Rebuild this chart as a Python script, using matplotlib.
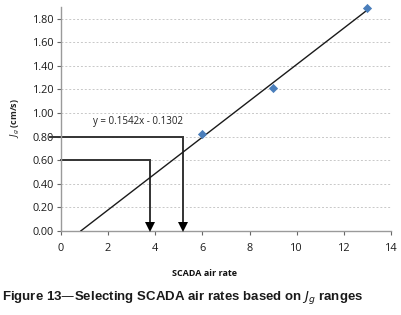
import matplotlib
matplotlib.use("Agg")
import matplotlib.pyplot as plt
from matplotlib.transforms import ScaledTranslation
import numpy as np

# Data
air_rate = [6, 9, 13]
jg = [0.82, 1.21, 1.89]
slope, intercept = 0.1542, -0.1302
eq_label = "y = 0.1542x - 0.1302"
jg_targets = [0.60, 0.80]
air_selected = [3.77, 5.17]
x_ticks = [0, 2, 4, 6, 8, 10, 12, 14]
y_ticks = [0.0, 0.2, 0.4, 0.6, 0.8, 1.0, 1.2, 1.4, 1.6, 1.8]

plt.rcParams['font.family'] = ['Open Sans', 'DejaVu Sans']

fig = plt.figure(figsize=(4.01, 3.15), dpi=100)
ax = fig.add_axes([0.152, 0.267, 0.823, 0.711])
ax.set_xlim(0, 14)
ax.set_ylim(0, 1.9)

# grid
for yv in y_ticks[1:]:
    ax.axhline(yv, color='#c8c8c8', lw=0.7, ls=(0, (2, 2)), zorder=0)

# trendline
x0 = -intercept / slope
xs = np.array([x0, 13.0])
ax.plot(xs, slope * xs + intercept, color='#1a1a1a', lw=1.0, zorder=3)

# data points
ax.scatter(air_rate, jg, marker='D', s=22, color='#4a7ebb', zorder=4, linewidths=0,
           clip_on=False)

# selection lines with arrows
starts = [0.0, -0.45]
up = ScaledTranslation(0, 3.0 / 72, fig.dpi_scale_trans)
for yt, xsel, xs0 in zip(jg_targets, air_selected, starts):
    ax.plot([xs0, xsel, xsel], [yt, yt, 0.04], color='#333333', lw=1.4,
            clip_on=False, zorder=2, solid_joinstyle='miter')
    ax.plot([xsel], [0.0], marker='v', markersize=6.5, color='black',
            markeredgewidth=0, transform=ax.transData + up, clip_on=False, zorder=5)

ax.text(3.25, 0.93, eq_label, fontsize=7, color='#222222', ha='center', va='center')

ax.set_xticks(x_ticks)
ax.set_yticks(y_ticks)
ax.set_xticklabels([str(v) for v in x_ticks])
ax.set_yticklabels([f"{v:.2f}" for v in y_ticks])
ax.tick_params(axis='both', labelsize=7.8, colors='#666666', length=3, width=0.8)
ax.tick_params(axis='x', direction='out', pad=6)
ax.tick_params(axis='y', direction='out', pad=2)
for lbl in ax.get_xticklabels() + ax.get_yticklabels():
    lbl.set_color('#1a1a1a')
    lbl.set_fontweight('medium')

for s in ['top', 'right']:
    ax.spines[s].set_visible(False)
for s in ['left', 'bottom']:
    ax.spines[s].set_color('#9a9a9a')
    ax.spines[s].set_linewidth(1.0)

fig.text(0.038, 0.625, r"$J_g$ (cm/s)", rotation=90, fontsize=6.5, fontweight='bold',
         ha='center', va='center', color='#222222')
fig.text(0.51, 0.133, "SCADA air rate", fontsize=6.5, fontweight='bold',
         ha='center', va='center', color='#111111')
fig.text(0.005, 0.057, "Figure 13\u2014Selecting SCADA air rates based on $\\mathit{J_g}$ ranges",
         fontsize=9.5, fontweight='bold', ha='left', va='center', color='#1a1a1a',
         family=['Liberation Sans', 'DejaVu Sans'])

fig.savefig("out.png", dpi=100)
